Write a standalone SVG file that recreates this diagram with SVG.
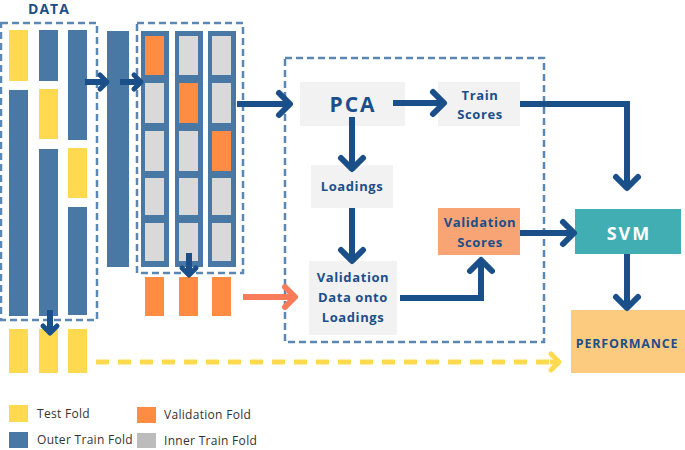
<svg xmlns="http://www.w3.org/2000/svg" width="685" height="450" viewBox="0 0 685 450">
<style>
.t{font-family:"Open Sans","Liberation Sans",Arial,sans-serif;font-weight:bold;fill:#1b4f8a;text-anchor:middle}
.m{font-size:13px;letter-spacing:0.6px}
.lg{font-family:"Open Sans","Liberation Sans",Arial,sans-serif;font-size:12px;letter-spacing:0.3px;fill:#333}
.dash{fill:none;stroke:#5b87b5;stroke-width:2.5;stroke-dasharray:7 4}
.y{fill:#ffd94f}.b{fill:#4a78a4}.o{fill:#ff8c42}.g{fill:#d9d9d9}
.nav{fill:none;stroke:#1b4f8a;stroke-width:6}
.box{fill:#f2f2f2}
</style>
<defs>
<marker id="hn" markerUnits="userSpaceOnUse" viewBox="-20 -20 40 40" markerWidth="40" markerHeight="40" refX="0" refY="0" orient="auto" overflow="visible"><path d="M-11,-11 L0,0 L-11,11" fill="none" stroke="#1b4f8a" stroke-width="6" stroke-linecap="round" stroke-linejoin="round"/></marker>
<marker id="hs" markerUnits="userSpaceOnUse" viewBox="-20 -20 40 40" markerWidth="40" markerHeight="40" refX="0" refY="0" orient="auto" overflow="visible"><path d="M-7,-7 L0,0 L-7,7" fill="none" stroke="#1b4f8a" stroke-width="5" stroke-linecap="round" stroke-linejoin="round"/></marker>
<marker id="ho" markerUnits="userSpaceOnUse" viewBox="-20 -20 40 40" markerWidth="40" markerHeight="40" refX="0" refY="0" orient="auto" overflow="visible"><path d="M-10,-10 L0,0 L-10,10" fill="none" stroke="#f97c5a" stroke-width="6" stroke-linecap="round" stroke-linejoin="round"/></marker>
<marker id="hy" markerUnits="userSpaceOnUse" viewBox="-20 -20 40 40" markerWidth="40" markerHeight="40" refX="0" refY="0" orient="auto" overflow="visible"><path d="M-8,-8 L0,0 L-8,8" fill="none" stroke="#ffd94f" stroke-width="5" stroke-linecap="round" stroke-linejoin="round"/></marker>
</defs>
<rect width="685" height="450" fill="#fff"/>

<g id="data">
<text x="49" y="14" class="t" font-size="14" letter-spacing="1">DATA</text>
<rect x="1" y="23" width="96" height="297" class="dash"/>
<rect x="9" y="30" width="19" height="51" class="y"/>
<rect x="9" y="90" width="19" height="226" class="b"/>
<rect x="39" y="30" width="19" height="51" class="b"/>
<rect x="39" y="89" width="19" height="50" class="y"/>
<rect x="39" y="149" width="19" height="167" class="b"/>
<rect x="68" y="30" width="19" height="110" class="b"/>
<rect x="68" y="148" width="19" height="50" class="y"/>
<rect x="68" y="207" width="19" height="108" class="b"/>
</g>

<g id="outer-train">
<rect x="107" y="31" width="22" height="236" class="b"/>
</g>

<g id="inner-folds">
<rect x="137" y="23" width="106" height="250" class="dash"/>
<rect x="141" y="31" width="28" height="236" class="b"/>
<rect x="175" y="31" width="28" height="236" class="b"/>
<rect x="208" y="31" width="28" height="236" class="b"/>
<rect x="145" y="36" width="19" height="39" class="o"/>
<rect x="145" y="83" width="19" height="40" class="g"/>
<rect x="145" y="131" width="19" height="40" class="g"/>
<rect x="145" y="178" width="19" height="37" class="g"/>
<rect x="145" y="223" width="19" height="38" class="g"/>
<rect x="179" y="36" width="19" height="39" class="g"/>
<rect x="179" y="83" width="19" height="40" class="o"/>
<rect x="179" y="131" width="19" height="40" class="g"/>
<rect x="179" y="178" width="19" height="37" class="g"/>
<rect x="179" y="223" width="19" height="38" class="g"/>
<rect x="212" y="36" width="19" height="39" class="g"/>
<rect x="212" y="83" width="19" height="40" class="g"/>
<rect x="212" y="131" width="19" height="40" class="o"/>
<rect x="212" y="178" width="19" height="37" class="g"/>
<rect x="212" y="223" width="19" height="38" class="g"/>
</g>

<g id="validation-folds">
<rect x="145" y="277" width="19" height="39" class="o"/>
<rect x="179" y="277" width="19" height="39" class="o"/>
<rect x="212" y="277" width="19" height="39" class="o"/>
</g>

<g id="test-folds">
<rect x="9" y="329" width="19" height="44" class="y"/>
<rect x="39" y="329" width="19" height="44" class="y"/>
<rect x="68" y="329" width="19" height="44" class="y"/>
</g>

<g id="pca-frame">
<rect x="285" y="58" width="259" height="284" class="dash"/>
</g>

<g id="pca">
<rect x="300" y="82" width="105" height="44" class="box"/>
<text x="353" y="112" class="t" font-size="21" letter-spacing="2">PCA</text>
</g>
<g id="train-scores">
<rect x="438" y="82" width="82" height="44" class="box"/>
<text x="480" y="100" class="t m">Train</text>
<text x="480" y="119" class="t m">Scores</text>
</g>
<g id="loadings">
<rect x="311" y="165" width="82" height="43" class="box"/>
<text x="352" y="191" class="t m">Loadings</text>
</g>
<g id="validation-data">
<rect x="309" y="261" width="88" height="74" class="box"/>
<text x="353" y="282" class="t m">Validation</text>
<text x="353" y="302" class="t m">Data onto</text>
<text x="353" y="322" class="t m">Loadings</text>
</g>
<g id="validation-scores">
<rect x="438" y="208" width="82" height="47" fill="#f9a474"/>
<text x="480" y="227" class="t m">Validation</text>
<text x="480" y="247" class="t m">Scores</text>
</g>
<g id="svm">
<rect x="575" y="209" width="106" height="45" fill="#40aeb3"/>
<text x="629" y="240" class="t" font-size="18" letter-spacing="2" style="fill:#fff">SVM</text>
</g>
<g id="performance">
<rect x="571" y="310" width="114" height="63" fill="#fdcb80"/>
<text x="627" y="348" class="t" font-size="12.5" letter-spacing="0.8">PERFORMANCE</text>
</g>

<g id="connectors">
<line x1="85" y1="82" x2="107" y2="82" class="nav" stroke-width="5" marker-end="url(#hs)"/>
<line x1="120" y1="82" x2="141" y2="82" class="nav" stroke-width="5" marker-end="url(#hs)"/>
<line x1="50" y1="310" x2="50" y2="333" class="nav" stroke-width="5" marker-end="url(#hs)"/>
<line x1="189" y1="253" x2="189" y2="275" class="nav" stroke-width="5" marker-end="url(#hs)"/>
<line x1="237" y1="104" x2="290" y2="104" class="nav" marker-end="url(#hn)"/>
<line x1="393" y1="103" x2="444" y2="103" class="nav" marker-end="url(#hn)"/>
<line x1="352" y1="117" x2="352" y2="169" class="nav" marker-end="url(#hn)"/>
<line x1="352" y1="208" x2="352" y2="261" class="nav" marker-end="url(#hn)"/>
<path d="M400,298 H481 V260" class="nav" marker-end="url(#hn)"/>
<line x1="520" y1="233" x2="574" y2="233" class="nav" marker-end="url(#hn)"/>
<path d="M520,104 H627 V188" class="nav" marker-end="url(#hn)"/>
<line x1="627" y1="254" x2="627" y2="308" class="nav" marker-end="url(#hn)"/>
<line x1="243" y1="297" x2="295" y2="297" fill="none" stroke="#f97c5a" stroke-width="6" marker-end="url(#ho)"/>
<line x1="96" y1="362" x2="550" y2="362" fill="none" stroke="#ffd94f" stroke-width="5" stroke-dasharray="13 9"/>
<line x1="550" y1="362" x2="559" y2="362" fill="none" stroke="#ffd94f" stroke-width="5" marker-end="url(#hy)"/>
</g>

<g id="legend">
<rect x="9" y="405" width="19" height="17" class="y"/>
<text x="37" y="418" class="lg">Test Fold</text>
<rect x="9" y="432" width="19" height="16" class="b"/>
<text x="37" y="444" class="lg">Outer Train Fold</text>
<rect x="137" y="407" width="19" height="16" class="o"/>
<text x="164" y="419" class="lg">Validation Fold</text>
<rect x="137" y="433" width="19" height="15" fill="#bcbcbc"/>
<text x="164" y="445" class="lg">Inner Train Fold</text>
</g>
</svg>
